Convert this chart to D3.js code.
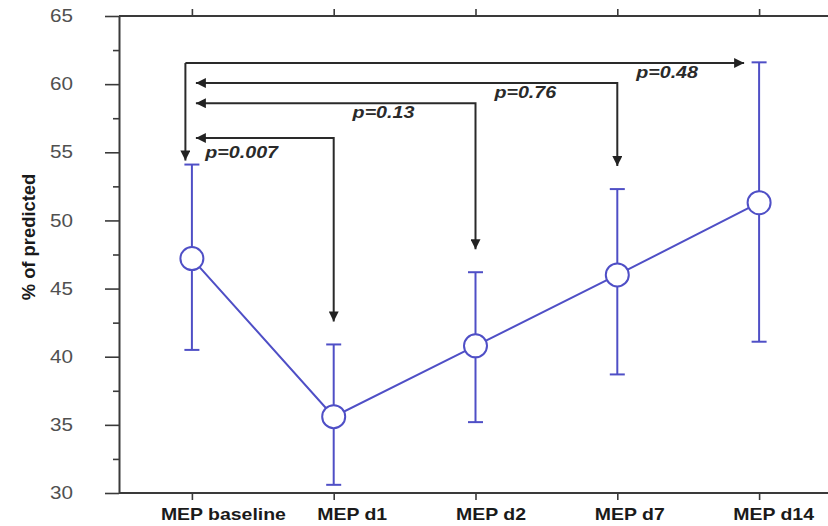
<!DOCTYPE html>
<html>
<head>
  <meta charset="utf-8">
  <title>MEP % of predicted</title>
  <script src="https://d3js.org/d3.v7.min.js"></script>
  <style>
    body { margin: 0; background: #fff; }
    svg { display: block; font-family: "Liberation Sans", Arial, sans-serif; }
  </style>
</head>
<body>
  <svg width="828" height="526"></svg>
  <script>
    // values
    const categories = ["MEP baseline", "MEP d1", "MEP d2", "MEP d7", "MEP d14"];
    const means = [47.2, 35.6, 40.8, 46.0, 51.3];
    const upper = [54.1, 40.9, 46.2, 52.3, 61.6];
    const lower = [40.5, 30.6, 35.2, 38.7, 41.1];
    const yTicks = [30, 35, 40, 45, 50, 55, 60, 65];

    // comparisons against baseline
    const compared = ["MEP d1", "MEP d2", "MEP d7", "MEP d14"];
    const pLabels = ["p=0.007", "p=0.13", "p=0.76", "p=0.48"];
    const bracketLevel = [56.05, 58.6, 60.08, 61.55];

    const blue = "#4f4fc6", ink = "#3a3a3a";
    const sx = 1.18; // the source figure is stretched sideways
    // category labels sit a little right of their ticks in the source
    const labelNudge = [31, 18, 15, 12, 14];

    const svg = d3.select("svg");
    const x = d3.scalePoint().domain(categories).range([121, 830]).padding(0.5);
    const y = d3.scaleLinear().domain([30, 65]).range([493, 16]);

    const defs = svg.append("defs");
    defs.append("marker")
      .attr("id", "head")
      .attr("viewBox", "0 0 10 10")
      .attr("refX", 10).attr("refY", 5)
      .attr("markerUnits", "userSpaceOnUse")
      .attr("markerWidth", 11).attr("markerHeight", 10)
      .attr("orient", "auto-start-reverse")
      .append("path").attr("d", "M0,0L10,5L0,10z").attr("fill", "#222");

    // left axis, major + minor
    const minor = d3.range(32.5, 65, 5);
    svg.append("g").attr("transform", "translate(119,0)")
      .call(d3.axisLeft(y).tickValues(minor).tickSize(6).tickSizeOuter(0).tickFormat(""))
      .call(g => g.select(".domain").remove())
      .selectAll("line").attr("stroke", ink).attr("stroke-width", 1.6);

    const yAx = svg.append("g").attr("transform", "translate(119,0)")
      .call(d3.axisLeft(y).tickValues(yTicks).tickSize(14).tickSizeOuter(0));
    yAx.select(".domain").attr("stroke", ink).attr("stroke-width", 2);
    yAx.selectAll(".tick line").attr("stroke", ink).attr("stroke-width", 1.6);
    yAx.selectAll("text")
      .attr("x", -46 / sx)
      .attr("transform", `scale(${sx},1)`)
      .attr("fill", "#505050")
      .attr("font-size", 17.5)
      .attr("font-family", "Liberation Sans, Arial, sans-serif");

    // bottom axis
    const xAx = svg.append("g").attr("transform", "translate(0,493)")
      .call(d3.axisBottom(x).tickSize(7).tickSizeOuter(0));
    xAx.select(".domain").attr("d", "M119,0H828").attr("stroke", ink).attr("stroke-width", 2);
    xAx.selectAll(".tick line").attr("stroke", ink).attr("stroke-width", 1.6);
    xAx.selectAll("text")
      .attr("y", 27).attr("dy", 0)
      .attr("x", (d, i) => labelNudge[i] / sx)
      .attr("transform", `scale(${sx},1)`)
      .attr("fill", "#1a1a1a")
      .attr("font-weight", "bold")
      .attr("font-size", 16.5)
      .attr("font-family", "Liberation Sans, Arial, sans-serif");

    // top axis (mirror)
    const tAx = svg.append("g").attr("transform", "translate(0,16)")
      .call(d3.axisTop(x).tickSize(7).tickSizeOuter(0).tickFormat(""));
    tAx.select(".domain").attr("d", "M119,0H828").attr("stroke", ink).attr("stroke-width", 2);
    tAx.selectAll(".tick line").attr("stroke", ink).attr("stroke-width", 1.6);

    // y title
    svg.append("text")
      .attr("transform", "translate(29,237) rotate(-90) scale(1.05,1)")
      .attr("text-anchor", "middle")
      .attr("dy", "0.35em")
      .attr("font-weight", "bold")
      .attr("font-size", 17.5)
      .attr("fill", "#1a1a1a")
      .text("% of predicted");

    // comparison brackets
    const xb = x(categories[0]);
    const bracketTop = y(bracketLevel[3]);
    const ann = svg.append("g").attr("fill", "none").attr("stroke", "#2a2a2a").attr("stroke-width", 2);
    ann.append("path")
      .attr("d", `M${xb - 6.5},${bracketTop}V${y(upper[0]) - 4}`)
      .attr("marker-end", "url(#head)");
    ann.append("path")
      .attr("d", `M${xb - 6.5},${bracketTop}H${x(compared[3]) - 15}`)
      .attr("marker-end", "url(#head)");
    compared.slice(0, 3).forEach((c, i) => {
      const k = categories.indexOf(c);
      ann.append("path")
        .attr("d", `M${xb + 4},${y(bracketLevel[i])}H${x(c)}V${y(upper[k]) - 23}`)
        .attr("marker-start", "url(#head)")
        .attr("marker-end", "url(#head)");
    });

    svg.append("g").selectAll("text")
      .data(compared)
      .join("text")
      .attr("transform", (c, i) => `translate(${x(c) - 92},${y(bracketLevel[i]) + (i === 0 ? 20 : 15)}) scale(${sx + 0.05},1)`)
      .attr("text-anchor", "middle")
      .attr("font-weight", "bold")
      .attr("font-style", "italic")
      .attr("font-size", 16)
      .attr("fill", "#2a2a2a")
      .text((c, i) => pLabels[i]);

    // series
    const pts = categories.map((c, i) => ({ c, m: means[i], hi: upper[i], lo: lower[i] }));
    const g = svg.append("g").attr("stroke", blue).attr("stroke-width", 2);

    g.append("path")
      .datum(pts)
      .attr("fill", "none")
      .attr("d", d3.line().x(d => x(d.c)).y(d => y(d.m)));

    g.selectAll(".bar").data(pts).join("line")
      .attr("x1", d => x(d.c)).attr("x2", d => x(d.c))
      .attr("y1", d => y(d.hi)).attr("y2", d => y(d.lo));
    g.selectAll(".capHi").data(pts).join("line")
      .attr("x1", d => x(d.c) - 7.5).attr("x2", d => x(d.c) + 7.5)
      .attr("y1", d => y(d.hi)).attr("y2", d => y(d.hi));
    g.selectAll(".capLo").data(pts).join("line")
      .attr("x1", d => x(d.c) - 7.5).attr("x2", d => x(d.c) + 7.5)
      .attr("y1", d => y(d.lo)).attr("y2", d => y(d.lo));

    g.selectAll("circle").data(pts).join("circle")
      .attr("cx", d => x(d.c)).attr("cy", d => y(d.m))
      .attr("r", 11.5)
      .attr("fill", "#fff");
  </script>
</body>
</html>
